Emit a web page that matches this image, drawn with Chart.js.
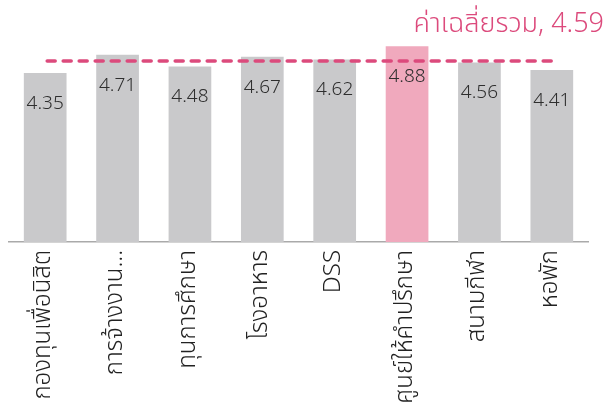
<!DOCTYPE html>
<html>
<head>
<meta charset="utf-8">
<script src="https://cdn.jsdelivr.net/npm/chart.js@4.4.0/dist/chart.umd.min.js"></script>
<style>
  html, body { margin: 0; padding: 0; background: #fff; }
  #wrap { width: 606px; height: 410px; }
</style>
</head>
<body>
<div id="wrap"><canvas id="myChart" width="606" height="410"></canvas></div>
<script>
// data
const categories = ['กองทุนเพื่อนิสิต', 'การจ้างงาน...', 'ทุนการศึกษา', 'โรงอาหาร', 'DSS', 'ศูนย์ให้คำปรึกษา', 'สนามกีฬา', 'หอพัก'];
const scores = [4.35, 4.71, 4.48, 4.67, 4.62, 4.88, 4.56, 4.41];
const highlight = 'ศูนย์ให้คำปรึกษา';
const overallAvg = 4.59;
const avgLabel = 'ค่าเฉลี่ยรวม, ' + overallAvg;

const FONT = '"Noto Sans Thai", Roboto, "Noto Sans", sans-serif';

// value labels inside the bars + the dashed average line
const overlay = {
    id: 'overlay',
    afterDatasetsDraw(chart) {
        const ctx = chart.ctx;
        const meta = chart.getDatasetMeta(0);
        const y = chart.scales.y;
        ctx.save();
        ctx.fillStyle = '#2e2e2e';
        ctx.font = '300 19px ' + FONT;
        ctx.textAlign = 'center';
        ctx.textBaseline = 'middle';
        meta.data.forEach((bar, i) => {
            ctx.fillText(scores[i].toFixed(2), bar.x, bar.y + 32);
        });

        // average line runs from the first bar centre to the last one
        const ly = y.getPixelForValue(overallAvg);
        const x0 = meta.data[0].x;
        const x1 = meta.data[meta.data.length - 1].x;
        ctx.strokeStyle = '#dc4a7c';
        ctx.lineWidth = 3.5;
        ctx.lineCap = 'round';
        ctx.setLineDash([8, 8]);
        ctx.beginPath();
        ctx.moveTo(x0 + 2, ly);
        ctx.lineTo(x1, ly);
        ctx.stroke();
        ctx.setLineDash([]);

        ctx.fillStyle = '#dc4a7c';
        ctx.font = '300 27px ' + FONT;
        ctx.textAlign = 'right';
        ctx.textBaseline = 'alphabetic';
        ctx.fillText(avgLabel, 604, 32);
        ctx.restore();
    }
};

const ctx = document.getElementById('myChart').getContext('2d');
const myChart = new Chart(ctx, {
    type: 'bar',
    data: {
        labels: categories,
        datasets: [{
            data: scores,
            backgroundColor: categories.map(c => c === highlight ? '#f0a9bd' : '#c9c9cb'),
            borderWidth: 0,
            barPercentage: 0.59,
            categoryPercentage: 1
        }]
    },
    options: {
        responsive: false,
        animation: false,
        layout: { padding: { left: 9, right: 18, top: 15, bottom: 0 } },
        plugins: {
            legend: { display: false },
            tooltip: { enabled: false }
        },
        scales: {
            x: {
                grid: { display: false, drawTicks: false },
                border: { display: true, color: '#aaaaaa', width: 1.5 },
                ticks: {
                    color: '#222222',
                    font: { family: FONT, size: 24, weight: '300' },
                    minRotation: 90,
                    maxRotation: 90,
                    autoSkip: false,
                    padding: 8
                },
                afterFit(scale) { scale.height = 168; }
            },
            y: {
                display: false,
                min: 1,
                max: 5.5
            }
        }
    },
    plugins: [overlay]
});
</script>
</body>
</html>
